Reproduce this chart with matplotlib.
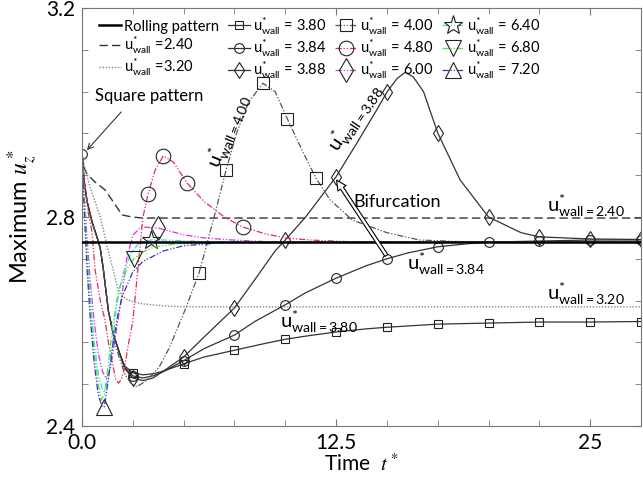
import numpy as np
import matplotlib
matplotlib.use('Agg')
import matplotlib.pyplot as plt
from matplotlib.ticker import MultipleLocator, FixedLocator, FixedFormatter

plt.rcParams['font.family'] = ['Lato', 'DejaVu Sans']
plt.rcParams['mathtext.fontset'] = 'stix'

# ---- values ----
t_roll = [0.0, 27.5]
u_roll = [2.752, 2.752]

t_240 = [0.0, 0.1, 0.25, 0.64, 1.13, 1.54, 1.97, 2.46, 3.0, 27.5]
u_240 = [2.92, 2.895, 2.882, 2.867, 2.852, 2.829, 2.804, 2.800, 2.798, 2.798]

t_320 = [0.0, 0.2, 0.4, 0.9, 1.28, 1.53, 1.77, 2.0, 2.26, 2.6, 2.95, 4.0, 5.07, 27.5]
u_320 = [2.92, 2.885, 2.857, 2.80, 2.737, 2.70, 2.66, 2.648, 2.641, 2.637, 2.634, 2.630, 2.628, 2.628]

t_380 = [0.0, 0.1, 0.25, 0.5, 0.75, 0.9, 1.05, 1.3, 1.55, 1.8, 2.1, 2.5, 3.0, 3.5, 4.0, 5.0, 6.0,
         7.5, 9.0, 10.0, 11.0, 12.5, 14.0, 15.0, 17.5, 20.0, 22.5, 25.0, 27.5]
u_380 = [2.92, 2.87, 2.83, 2.79, 2.76, 2.74, 2.70, 2.62, 2.575, 2.545, 2.515, 2.502, 2.498, 2.500,
         2.505, 2.519, 2.532, 2.545, 2.558, 2.566, 2.572, 2.580, 2.586, 2.589, 2.595, 2.597, 2.599,
         2.599, 2.600]
mk_380 = [2.5, 5.0, 7.5, 10.0, 12.5, 15.0, 17.5, 20.0, 22.5, 25.0, 27.5]

t_384 = [0.0, 0.1, 0.25, 0.5, 0.75, 0.9, 1.05, 1.3, 1.55, 1.8, 2.1, 2.5, 3.0, 3.5, 4.0, 5.0, 6.0,
         7.5, 8.5, 10.0, 11.0, 12.5, 14.0, 15.0, 16.0, 17.5, 19.0, 20.0, 22.5, 25.0, 27.5]
u_384 = [2.92, 2.87, 2.83, 2.79, 2.76, 2.74, 2.70, 2.62, 2.575, 2.545, 2.512, 2.496, 2.492, 2.496,
         2.504, 2.525, 2.548, 2.574, 2.600, 2.632, 2.655, 2.683, 2.707, 2.720, 2.731, 2.743, 2.749,
         2.752, 2.754, 2.756, 2.756]
mk_384 = [0.0, 2.5, 5.0, 7.5, 10.0, 12.5, 15.0, 17.5, 20.0, 22.5, 25.0, 27.5]

t_388 = [0.0, 0.1, 0.25, 0.5, 0.75, 0.9, 1.05, 1.3, 1.55, 1.8, 2.1, 2.5, 3.0, 3.5, 4.0, 5.0, 6.0,
         7.5, 8.5, 9.5, 10.0, 11.0, 12.5, 13.5, 14.5, 15.0, 15.5, 15.9, 16.3, 16.8, 17.5, 18.6,
         20.0, 21.6, 22.5, 25.0, 27.5]
u_388 = [2.92, 2.87, 2.83, 2.79, 2.76, 2.74, 2.70, 2.62, 2.575, 2.545, 2.51, 2.492, 2.487, 2.492,
         2.505, 2.532, 2.570, 2.626, 2.680, 2.735, 2.756, 2.800, 2.877, 2.940, 3.005, 3.039,
         3.065, 3.077, 3.068, 3.040, 2.961, 2.871, 2.800, 2.770, 2.762, 2.758, 2.757]
mk_388 = [2.5, 5.0, 7.5, 10.0, 12.5, 15.0, 17.5, 20.0, 22.5, 25.0, 27.5]

t_400 = [0.0, 0.1, 0.25, 0.5, 0.75, 0.9, 1.05, 1.3, 1.55, 1.8, 2.1, 2.4, 2.7, 3.2, 3.8, 4.3, 5.07,
         5.76, 6.5, 7.09, 7.6, 8.2, 8.9, 9.5, 10.1, 10.8, 11.5, 12.2, 13.3, 15.0, 16.6, 18.5, 27.5]
u_400 = [2.92, 2.87, 2.83, 2.79, 2.76, 2.74, 2.70, 2.62, 2.57, 2.535, 2.50, 2.482, 2.475, 2.488,
         2.513, 2.55, 2.622, 2.693, 2.80, 2.89, 2.96, 3.02, 3.056, 3.04, 2.988, 2.93, 2.875,
         2.833, 2.794, 2.770, 2.756, 2.753, 2.752]
mk_400 = [5.76, 7.09, 8.9, 10.1, 11.5]

t_480 = [0.0, 0.15, 0.3, 0.5, 0.64, 0.9, 1.13, 1.3, 1.48, 1.65, 1.8, 1.95, 2.1, 2.3, 2.5, 2.75,
         3.0, 3.25, 3.6, 4.0, 4.5, 5.17, 6.0, 7.0, 7.9, 9.0, 10.0, 11.2, 13.0, 27.5]
u_480 = [2.92, 2.86, 2.81, 2.77, 2.70, 2.64, 2.603, 2.56, 2.526, 2.49, 2.482, 2.49, 2.513, 2.56,
         2.60, 2.70, 2.80, 2.844, 2.89, 2.917, 2.905, 2.865, 2.83, 2.80, 2.781, 2.768, 2.76,
         2.756, 2.753, 2.752]
mk_480 = [3.25, 4.0, 5.17, 7.9]

t_600 = [0.0, 0.1, 0.25, 0.4, 0.6, 0.8, 1.0, 1.2, 1.4, 1.6, 1.8, 2.0, 2.2, 2.5, 2.9, 3.75, 5.0,
         6.0, 7.4, 9.0, 27.5]
u_600 = [2.92, 2.85, 2.76, 2.68, 2.60, 2.54, 2.505, 2.49, 2.51, 2.56, 2.61, 2.66, 2.72, 2.765,
         2.781, 2.779, 2.766, 2.76, 2.756, 2.753, 2.752]
mk_600 = [3.75]

t_640 = [0.0, 0.1, 0.25, 0.4, 0.6, 0.8, 1.0, 1.1, 1.3, 1.5, 1.7, 2.0, 2.4, 2.8, 3.4, 4.0, 6.0, 27.5]
u_640 = [2.92, 2.84, 2.74, 2.65, 2.56, 2.50, 2.47, 2.465, 2.49, 2.56, 2.63, 2.69, 2.73, 2.75,
         2.756, 2.756, 2.753, 2.752]
mk_640 = [3.4]

t_680 = [0.0, 0.1, 0.25, 0.4, 0.6, 0.8, 0.95, 1.1, 1.3, 1.5, 1.8, 2.2, 2.55, 3.0, 3.5, 4.5, 6.0, 27.5]
u_680 = [2.92, 2.83, 2.72, 2.63, 2.54, 2.48, 2.45, 2.46, 2.52, 2.59, 2.66, 2.70, 2.72, 2.733,
         2.742, 2.748, 2.751, 2.752]
mk_680 = [2.55]

t_720 = [0.0, 0.1, 0.25, 0.4, 0.6, 0.8, 1.0, 1.1, 1.3, 1.5, 1.75, 2.0, 2.5, 3.0, 4.0, 5.0, 7.0, 27.5]
u_720 = [2.92, 2.82, 2.70, 2.61, 2.52, 2.46, 2.436, 2.437, 2.49, 2.55, 2.61, 2.65, 2.695, 2.715,
         2.735, 2.745, 2.751, 2.752]
mk_720 = [1.1]

USTAR = r'u$^{\mathregular{*}}_{\mathregular{wall}}$'


def lab(v):
    return USTAR + ' = ' + v


def idx(t, mk):
    return [list(t).index(m) for m in mk]


fig = plt.figure(figsize=(6.43, 4.79), dpi=100)
ax = fig.add_axes([0.1275, 0.1106, 0.8694, 0.8727])

dd = (0, (5, 1.5, 1, 1.5, 1, 1.5))
ax.plot(t_roll, u_roll, '-', color='black', lw=1.8, label='Rolling pattern', zorder=3)
ax.plot(t_240, u_240, color='#333333', ls=(0, (6, 3)), lw=1.0, label=USTAR + ' =2.40')
ax.plot(t_320, u_320, color='#888888', ls=(0, (1, 1.2)), lw=1.0, label=USTAR + ' =3.20')

mk = dict(mfc='none', mec='#222222', mew=0.8)
ax.plot(t_380, u_380, '-', color='#333333', lw=0.9, marker='s', ms=6,
        markevery=idx(t_380, mk_380), label=lab('3.80'), **mk)
ax.plot(t_384, u_384, '-', color='#333333', lw=0.9, marker='o', ms=7,
        markevery=idx(t_384, mk_384), label=lab('3.84'), **mk)
ax.plot(t_388, u_388, '-', color='#333333', lw=0.9, marker='d', ms=8,
        markevery=idx(t_388, mk_388), label=lab('3.88'), **mk)
ax.plot(t_400, u_400, color='#555555', ls=dd, lw=0.9, marker='s', ms=9,
        markevery=idx(t_400, mk_400), label=lab('4.00'), **mk)
ax.plot(t_480, u_480, color='#e0304a', ls=dd, lw=0.9, marker='o', ms=10.5,
        markevery=idx(t_480, mk_480), label=lab('4.80'), **mk)
ax.plot(t_600, u_600, color='#dd33dd', ls=dd, lw=0.9, marker='d', ms=12,
        markevery=idx(t_600, mk_600), label=lab('6.00'), **mk)
ax.plot(t_640, u_640, color='#33dddd', ls=dd, lw=0.9, marker='*', ms=14,
        markevery=idx(t_640, mk_640), label=lab('6.40'), **mk)
ax.plot(t_680, u_680, color='#55dd55', ls=dd, lw=0.9, marker='v', ms=11,
        markevery=idx(t_680, mk_680), label=lab('6.80'), **mk)
ax.plot(t_720, u_720, color='#3333bb', ls=dd, lw=0.9, marker='^', ms=12,
        markevery=idx(t_720, mk_720), label=lab('7.20'), **mk)

ax.set_xlim(0, 27.5)
ax.set_ylim(2.4, 3.2)
ax.xaxis.set_major_locator(FixedLocator([0, 12.5, 25]))
ax.xaxis.set_major_formatter(FixedFormatter(['0.0', '12.5', '25']))
ax.xaxis.set_minor_locator(MultipleLocator(2.5))
ax.yaxis.set_major_locator(FixedLocator([2.4, 2.8, 3.2]))
ax.yaxis.set_major_formatter(FixedFormatter(['2.4', '2.8', '3.2']))
ax.yaxis.set_minor_locator(MultipleLocator(0.08))
ax.tick_params(which='both', direction='in', top=True, right=True, color='#777777',
               labelsize=15, pad=5)
ax.tick_params(which='major', length=5)
ax.tick_params(which='minor', length=4)
for s in ax.spines.values():
    s.set_color('#777777')

ax.set_xlabel(r'Time  $t^*$', fontsize=15, labelpad=0)
ax.set_ylabel(r'Maximum $u_z^*$', fontsize=17, labelpad=4)

leg = ax.legend(loc='upper left', bbox_to_anchor=(0.018, 1.0), ncol=4, frameon=False,
                fontsize=10.5, handlelength=1.5, handletextpad=0.2, columnspacing=0.6,
                labelspacing=0.05, borderpad=0)

# annotations
ax.annotate('', xy=(0.15, 2.924), xytext=(2.02, 3.005),
            arrowprops=dict(arrowstyle='->', color='#333333', lw=0.8))
ax.text(3.3, 3.032, 'Square pattern', fontsize=12, ha='center', va='center')
ax.annotate('', xy=(12.45, 2.875), xytext=(15.05, 2.722),
            arrowprops=dict(arrowstyle='simple,head_width=0.7,head_length=0.7,tail_width=0.25',
                            fc='white', ec='black', lw=0.8))
ax.text(15.5, 2.829, 'Bifurcation', fontsize=13, ha='center', va='center')


def ann(x, y, v, rot=0, ha='left'):
    ax.text(x, y, r'u$^{\mathregular{*}}_{\mathregular{wall=%s}}$' % v, fontsize=14.5,
            rotation=rot, ha=ha, va='center', rotation_mode='anchor')


ann(22.87, 2.822, '2.40')
ann(16.0, 2.711, '3.84')
ann(22.87, 2.654, '3.20')
ann(9.74, 2.600, '3.80')
ax.text(7.2, 2.965, r'u$^{\mathregular{*}}_{\mathregular{wall=4.00}}$', fontsize=14.5,
        rotation=68, ha='center', va='center')
ax.text(13.4, 2.99, r'u$^{\mathregular{*}}_{\mathregular{wall=3.88}}$', fontsize=14.5,
        rotation=56, ha='center', va='center')

fig.savefig('out.png', dpi=100)
